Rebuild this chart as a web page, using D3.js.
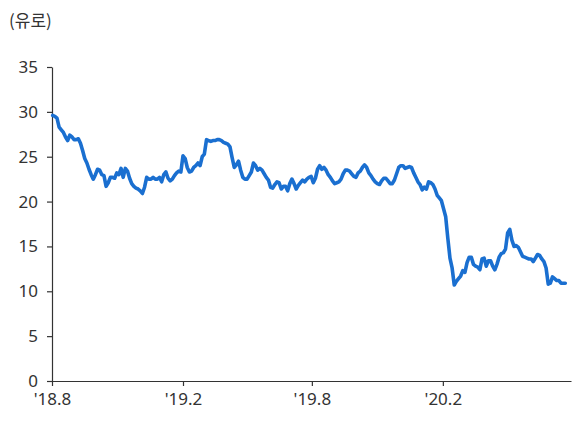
<!DOCTYPE html>
<html><head><meta charset="utf-8">
<script src="https://cdn.jsdelivr.net/npm/d3@7/dist/d3.min.js"></script>
<style>
html,body{margin:0;padding:0;background:#fff;}
svg text{font-family:"Noto Sans","Noto Sans CJK KR",sans-serif;}
</style></head>
<body><svg id="chart" width="573" height="423"></svg>
<script>
// Series: sampled every 3 days starting 2018-08-02 (EUR)
const startDate = "2018-08-02";
const stepDays = 3;
const values = [
29.6,29.5,29.3,28.3,28.0,27.7,27.2,26.8,27.4,27.2,26.9,26.9,27.0,26.5,25.7,24.8,24.3,23.6,23.0,22.5,
23.0,23.6,23.5,23.0,22.9,21.7,22.1,22.7,22.7,22.6,23.2,23.0,23.7,22.7,23.7,23.4,22.6,22.0,21.7,21.5,
21.4,21.2,20.9,21.6,22.7,22.5,22.5,22.7,22.5,22.5,22.7,22.2,23.0,23.3,22.6,22.3,22.5,22.9,23.2,23.4,
23.3,25.1,24.8,23.8,23.3,23.4,23.8,24.0,24.3,24.0,25.0,25.3,26.9,26.8,26.7,26.8,26.8,26.9,26.9,26.8,
26.6,26.5,26.4,26.1,24.9,23.8,24.1,24.5,23.5,22.7,22.5,22.5,22.9,23.3,24.3,24.0,23.5,23.7,23.5,23.1,
22.7,22.4,21.6,21.5,21.9,22.2,22.1,21.4,21.7,21.7,21.2,22.0,22.5,22.0,21.4,21.8,22.1,22.4,22.2,22.5,
22.7,22.8,22.1,22.6,23.6,24.0,23.6,23.8,23.5,23.0,22.7,22.3,22.0,22.1,22.2,22.5,23.1,23.5,23.5,23.4,
23.1,22.8,22.7,23.2,23.4,23.8,24.1,23.8,23.2,22.9,22.5,22.2,22.0,21.9,22.3,22.6,22.6,22.3,22.0,22.0,
22.4,23.1,23.8,24.0,24.0,23.7,23.8,23.9,23.8,23.2,22.7,22.2,21.9,21.3,21.6,21.4,22.2,22.1,21.9,21.4,
20.7,20.4,20.1,19.2,18.3,15.9,13.7,12.6,10.7,11.1,11.4,11.7,12.3,12.1,13.2,13.8,13.8,13.0,12.8,12.7,
12.4,13.6,13.7,12.8,13.4,13.4,12.8,12.4,13.0,13.8,14.2,14.3,14.7,16.5,16.9,15.7,15.0,15.1,14.9,14.4,
13.9,13.8,13.7,13.6,13.6,13.3,13.7,14.1,14.0,13.6,13.3,12.6,10.8,10.9,11.6,11.4,11.2,11.2,10.9,10.9,
10.9
];
const xDomain = ["2018-08-01", "2020-07-30"];
const tickDates = ["2018-08-01", "2019-02-01", "2019-08-01", "2020-02-01"];
const tickLabels = ["'18.8", "'19.2", "'19.8", "'20.2"];
const yTicks = [0, 5, 10, 15, 20, 25, 30, 35];
const unitLabel = "(유로)";

const parse = d3.utcParse("%Y-%m-%d");
const start = parse(startDate);
const data = values.map((v, i) => ({date: d3.utcDay.offset(start, i * stepDays), value: v}));

const svg = d3.select("#chart");
const mLeft = 52, mRight = 571, mTop = 67, mBottom = 381;

const x = d3.scaleUtc().domain(xDomain.map(parse)).range([mLeft, mRight]);
const y = d3.scaleLinear().domain([0, 35]).range([mBottom, mTop]);

const axisColor = "#333";
const yAxis = svg.append("g").attr("transform", `translate(${mLeft},0)`)
  .call(d3.axisLeft(y).tickValues(yTicks).tickSize(5).tickSizeOuter(0).tickPadding(9));
const xAxis = svg.append("g").attr("transform", `translate(0,${mBottom})`)
  .call(d3.axisBottom(x).tickValues(tickDates.map(parse))
    .tickFormat((d, i) => tickLabels[i]).tickSize(5).tickSizeOuter(0).tickPadding(7));

[yAxis, xAxis].forEach(g => {
  g.select(".domain").attr("stroke", axisColor).attr("stroke-width", 1.2);
  g.selectAll(".tick line").attr("stroke", axisColor).attr("stroke-width", 1.2);
  g.selectAll(".tick text").attr("fill", "#333").style("font-size", "17px");
});

svg.append("text").attr("x", 9).attr("y", 27)
  .attr("fill", "#333").style("font-size", "17px")
  .style("font-family", "'Noto Sans CJK KR','Noto Sans',sans-serif")
  .text(unitLabel);

svg.append("path").datum(data)
  .attr("fill", "none").attr("stroke", "#1a6fd0").attr("stroke-width", 3.6)
  .attr("stroke-linejoin", "round").attr("stroke-linecap", "round")
  .attr("d", d3.line().x(d => x(d.date)).y(d => y(d.value)));
</script></body></html>
